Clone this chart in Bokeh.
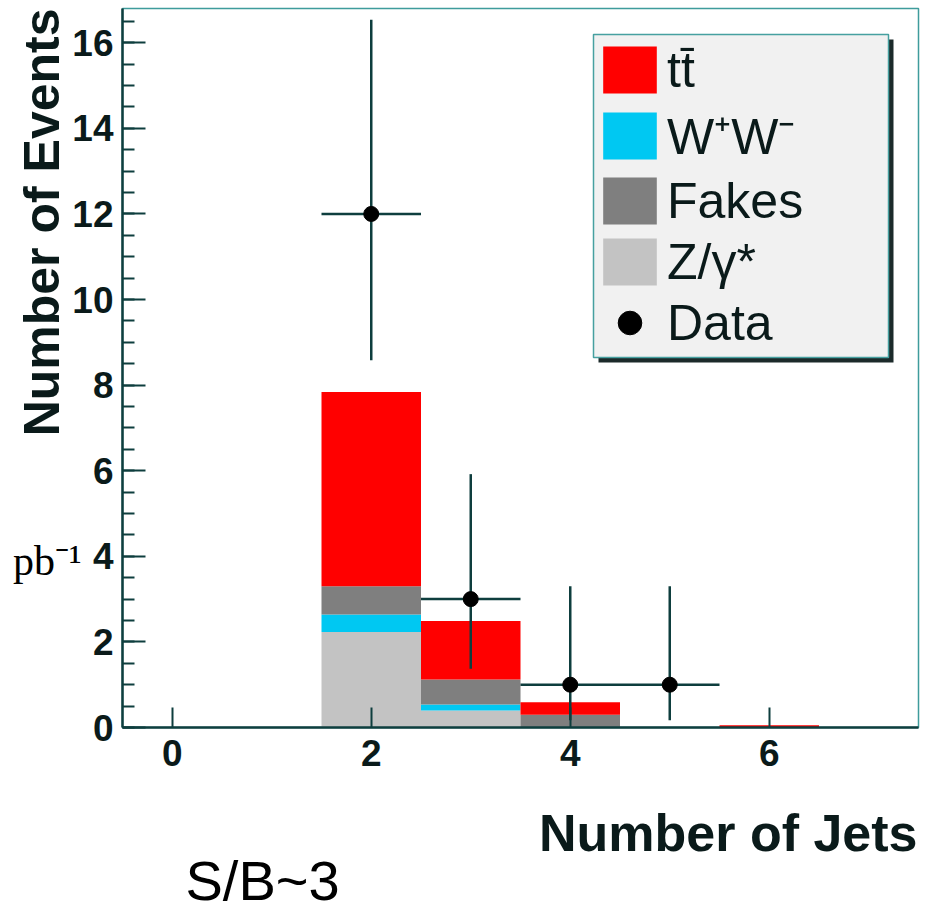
import numpy as np
from bokeh.plotting import figure
from bokeh.models import (ColumnDataSource, Range1d, FixedTicker, Title, LinearAxis,
                          BoxAnnotation, Legend, LegendItem)
from bokeh.embed import file_html
from bokeh.resources import INLINE

# ---------------- data ----------------
n_jets = [0, 1, 2, 3, 4, 5, 6, 7]
zgamma = [0, 0, 2.23, 0.40, 0, 0, 0, 0]
ww = [0, 0, 0.41, 0.14, 0, 0, 0, 0]
fakes = [0, 0, 0.66, 0.58, 0.30, 0, 0, 0]
ttbar = [0, 0, 4.54, 1.37, 0.29, 0, 0.05, 0]

data_x = [2, 3, 4, 5]
data_y = [12, 3, 1, 1]
data_lo = [8.58, 1.37, 0.17, 0.17]
data_hi = [16.54, 5.92, 3.30, 3.30]
bin_half = 0.5

x_ticks = [0, 2, 4, 6]
y_ticks = [0, 2, 4, 6, 8, 10, 12, 14, 16]
y_minor = [i * 0.5 for i in range(0, 34)]

labels = ["tt\u0304", "W\u207AW\u207B", "Fakes", "Z/\u03B3*", "Data"]
colors = {"tt": "#ff0000", "ww": "#00c8f2", "fakes": "#7f7f7f", "z": "#c3c3c3"}

lumi_tick = 3.9
lumi_text = "pb\u207B\u00B9"

AX = "#0e3e3e"
TXT = "#0a1a1a"

# ---------------- figure ----------------
p = figure(width=927, height=910, x_range=Range1d(-0.5, 7.5), y_range=Range1d(0, 16.8),
           output_backend="svg", toolbar_location=None,
           min_border_left=122, min_border_right=9, min_border_top=8, min_border_bottom=183)
p.xgrid.visible = False
p.ygrid.visible = False
p.outline_line_color = "#3f9c9c"
p.outline_line_width = 1.5
p.background_fill_color = "white"
p.border_fill_color = "white"

src = ColumnDataSource(dict(x=n_jets, z=zgamma, ww=ww, fakes=fakes, tt=ttbar))
rs = p.vbar_stack(["z", "ww", "fakes", "tt"], x="x", width=1.0, source=src,
                  fill_color=[colors["z"], colors["ww"], colors["fakes"], colors["tt"]],
                  line_color=None)
r_z, r_ww, r_fk, r_tt = rs

dsrc = ColumnDataSource(dict(
    x=data_x, y=data_y, lo=data_lo, hi=data_hi,
    xl=[v - bin_half for v in data_x], xr=[v + bin_half for v in data_x]))
p.segment(x0="x", y0="lo", x1="x", y1="hi", source=dsrc, line_color=AX, line_width=2.5)
p.segment(x0="xl", y0="y", x1="xr", y1="y", source=dsrc, line_color=AX, line_width=2.5)
r_data = p.scatter(x="x", y="y", source=dsrc, size=15, color="black")

# ---------------- axes ----------------
for ax in (p.xaxis[0], p.yaxis[0]):
    ax.axis_line_color = AX
    ax.axis_line_width = 2.5
    ax.major_tick_line_color = AX
    ax.major_tick_line_width = 2
    ax.minor_tick_line_color = AX
    ax.minor_tick_line_width = 2
    ax.major_tick_out = 0
    ax.minor_tick_out = 0
    ax.major_label_text_font = "Liberation Sans"
    ax.major_label_text_font_style = "bold"
    ax.major_label_text_font_size = "37px"
    ax.major_label_text_color = TXT

xa = p.xaxis[0]
xa.ticker = FixedTicker(ticks=x_ticks, minor_ticks=[])
xa.major_tick_in = 20
xa.minor_tick_in = 0
xa.major_label_standoff = 12

ya = p.yaxis[0]
ya.ticker = FixedTicker(ticks=y_ticks, minor_ticks=y_minor)
ya.major_tick_in = 23
ya.minor_tick_in = 12
ya.major_label_standoff = 9

# ---------------- titles in side panels ----------------
p.add_layout(Title(text="Number of Jets", align="right", offset=1, standoff=70,
                   vertical_align="top",
                   text_font="Liberation Sans", text_font_style="bold",
                   text_font_size="52px", text_color=TXT), "below")
p.add_layout(Title(text="S/B~3", align="left", offset=63, standoff=-100,
                   vertical_align="top",
                   text_font="Liberation Sans", text_font_style="normal",
                   text_font_size="56px", text_color="black"), "below")
p.add_layout(Title(text="Number of Events", align="right", standoff=0,
                   text_font="Liberation Sans", text_font_style="bold",
                   text_font_size="50px", text_color=TXT), "left")

# stray luminosity fragment at the left edge, carried by a bare extra axis
lumi_ax = LinearAxis(ticker=FixedTicker(ticks=[lumi_tick], minor_ticks=[]),
                     major_label_overrides={lumi_tick: lumi_text},
                     axis_line_color=None, major_tick_line_color=None,
                     minor_tick_line_color=None, major_tick_out=0, major_tick_in=0,
                     major_label_standoff=-70,
                     major_label_text_font="Liberation Serif",
                     major_label_text_font_size="42px",
                     major_label_text_font_style="normal",
                     major_label_text_color="black")
p.add_layout(lumi_ax, "left")

# ---------------- legend ----------------
p.add_layout(BoxAnnotation(left=476, right=771, top=688, bottom=365,
                           left_units="screen", right_units="screen",
                           top_units="screen", bottom_units="screen",
                           fill_color="#1c2a2a", fill_alpha=1, line_color=None))
p.add_layout(BoxAnnotation(left=471, right=766, top=693, bottom=370,
                           left_units="screen", right_units="screen",
                           top_units="screen", bottom_units="screen",
                           fill_color="#f1f1f1", fill_alpha=1,
                           line_color="#46a0a0", line_alpha=1, line_width=1.5))

legend = Legend(items=[LegendItem(label=labels[0], renderers=[r_tt]),
                       LegendItem(label=labels[1], renderers=[r_ww]),
                       LegendItem(label=labels[2], renderers=[r_fk]),
                       LegendItem(label=labels[3], renderers=[r_z]),
                       LegendItem(label=labels[4], renderers=[r_data])],
                location=(474, 375), glyph_width=67, glyph_height=59,
                label_text_font="Liberation Sans", label_text_font_size="50px",
                label_text_color=TXT, label_standoff=4, spacing=2,
                padding=0, margin=0, background_fill_alpha=0, border_line_color=None)
p.add_layout(legend)

open("out.html", "w").write(file_html(p, INLINE))
